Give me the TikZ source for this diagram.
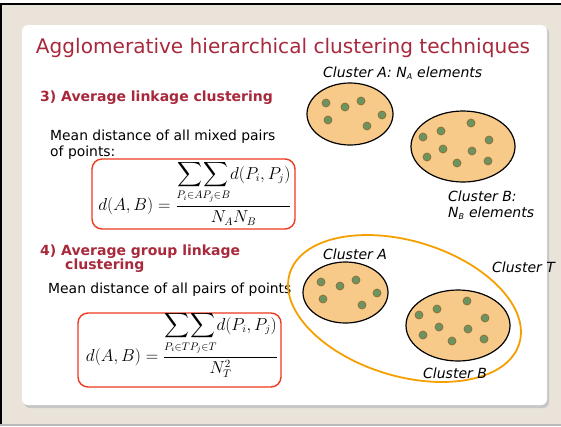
\documentclass[tikz,border=0pt]{standalone}
\usepackage{amsmath}
\usepackage{fontspec}
\setmainfont{DejaVu Sans}
\usetikzlibrary{shapes.geometric}
\definecolor{pagebg}{HTML}{E9E3DA}
\definecolor{titlered}{HTML}{A8283C}
\definecolor{boxred}{HTML}{EE3A1E}
\definecolor{blobfill}{HTML}{F8CA8A}
\definecolor{dotfill}{HTML}{6B9462}
\definecolor{dotedge}{HTML}{8C6D33}
\definecolor{hullorange}{HTML}{F5A000}
\tikzset{
  txt/.style={inner sep=0pt, anchor=base west},
  heading/.style={txt, text=titlered, font=\fontsize{14}{16}\selectfont\bfseries},
  body/.style={txt, font=\fontsize{13.9}{16}\selectfont},
  clab/.style={txt, font=\fontsize{14}{16}\selectfont\itshape},
  formbox/.style={draw=boxred, line width=1.4pt, rounded corners=10pt, fill=white},
  blob/.style={ellipse, draw=black, line width=1.2pt, fill=blobfill, inner sep=0pt},
  pt/.style={circle, fill=dotfill, draw=dotedge, line width=0.7pt, minimum size=8pt, inner sep=0pt},
  formula/.style={inner sep=0pt, font=\fontsize{16}{19}\selectfont},
}
\begin{document}
\begin{tikzpicture}[x=1pt,y=-1pt]
\useasboundingbox (0,0) rectangle (561,426);
% page background and frame
\fill[pagebg] (0,3) rectangle (561,426);
\draw[black, line width=2pt] (1,426) -- (1,4) -- (561,4);
\fill[gray!55] (0,423.5) rectangle (561,426);
% slide card with shadow
\fill[gray!45, rounded corners=6pt] (24,27) rectangle (549,408);
\fill[white, rounded corners=6pt] (22,25) rectangle (547,405);

% title
\node[inner sep=0pt, anchor=base, text=titlered, font=\fontsize{20.1}{24}\selectfont] (title) at (283,53) {Agglomerative hierarchical clustering techniques};

% section 3
\node[heading] (h3) at (40,101) {3) Average linkage clustering};
\node[body] (m3a) at (50,140) {Mean distance of all mixed pairs};
\node[body] (m3b) at (50,156) {of points:};
\draw[formbox] (92,159) rectangle (295,229);
\node[formula] (f3) at (195,193) {$\displaystyle d(A,B)=\frac{\displaystyle\sum_{P_i\in A}\!\sum_{P_j\in B}\! d(P_i,P_j)}{N_A N_B}$};

% section 4
\node[heading] (h4a) at (40,255) {4) Average group linkage};
\node[heading] (h4b) at (65,269) {clustering};
\node[body] (m4) at (48,293) {Mean distance of all pairs of points};
\draw[formbox] (78,313) rectangle (281,387);
\node[formula] (f4) at (182,345) {$\displaystyle d(A,B)=\frac{\displaystyle\sum_{P_i\in T}\!\sum_{P_j\in T}\! d(P_i,P_j)}{N_T^2}$};

% upper pair of clusters
\node[clab] (la) at (323,77) {Cluster A: N\textsubscript{\fontsize{8}{9}\selectfont A} elements};
\node[blob, minimum width=86pt, minimum height=62pt] (ca) at (350,114) {};
\foreach \i/\p in {1/{326,103},2/{345,107},3/{361,101},4/{328,120},5/{382,115},6/{367,126}}
  \node[pt] (a\i) at (\p) {};
\node[blob, minimum width=104pt, minimum height=71pt] (cb) at (463,146.5) {};
\foreach \i/\p in {1/{423,137},2/{441,131},3/{471,123},4/{489,140},5/{443,149},6/{472,151},7/{427,157},8/{457,163},9/{488,161}}
  \node[pt] (b\i) at (\p) {};
\node[clab] (lb1) at (448,201) {Cluster B:};
\node[clab] (lb2) at (448,217) {N\textsubscript{\fontsize{8}{9}\selectfont B} elements};

% lower clusters enclosed by T
\node[ellipse, draw=hullorange, line width=1.8pt, minimum width=240pt, minimum height=135pt, rotate=-17, inner sep=0pt] (ct) at (404.5,308.5) {};
\node[blob, minimum width=85pt, minimum height=61pt] (ta) at (345.5,292.5) {};
\foreach \i/\p in {1/{321,282},2/{340,286},3/{356,280},4/{323,299},5/{377,293},6/{362,305}}
  \node[pt] (ta\i) at (\p) {};
\node[blob, minimum width=104pt, minimum height=71pt] (tb) at (458,325.5) {};
\foreach \i/\p in {1/{419,315},2/{437,309},3/{467,301},4/{485,318},5/{439,327},6/{468,329},7/{423,335},8/{452,341},9/{484,339}}
  \node[pt] (tb\i) at (\p) {};
\node[clab] (lta) at (323,259) {Cluster A};
\node[clab] (ltt) at (492,272) {Cluster T};
\node[clab] (ltb) at (423,378) {Cluster B};
\end{tikzpicture}
\end{document}
